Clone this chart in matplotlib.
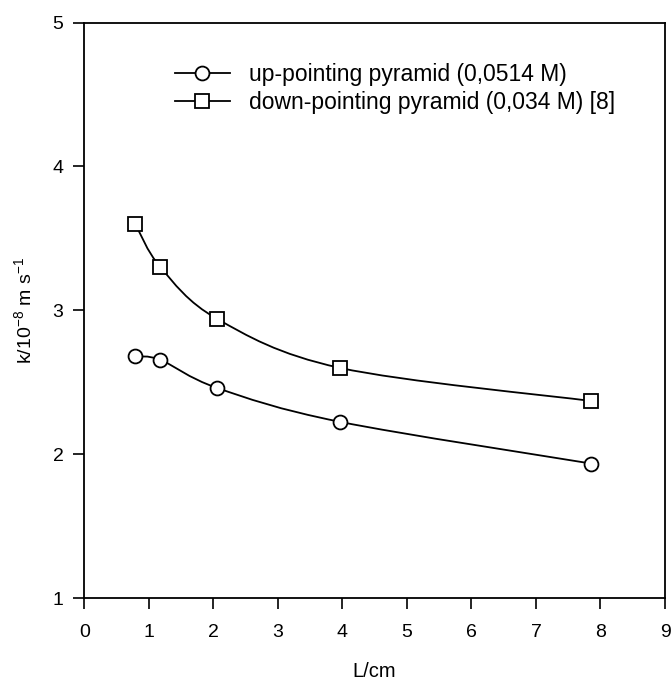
import numpy as np
import matplotlib.pyplot as plt
from matplotlib.path import Path
from matplotlib.patches import PathPatch
from matplotlib.lines import Line2D

plt.rcParams['font.family'] = ['Liberation Sans', 'DejaVu Sans']

# data
L_up = [0.79, 1.18, 2.06, 3.96, 7.85]
k_up = [2.68, 2.655, 2.46, 2.225, 1.935]
L_down = [0.79, 1.18, 2.06, 3.96, 7.85]
k_down = [3.60, 3.30, 2.94, 2.60, 2.37]

label_up = 'up-pointing pyramid (0,0514 M)'
label_down = 'down-pointing pyramid (0,034 M) [8]'


def smooth_path(x, y, t=0.5):
    # Catmull-Rom style bezier connector through the data points
    x = np.asarray(x, float)
    y = np.asarray(y, float)
    verts = [(x[0], y[0])]
    codes = [Path.MOVETO]
    n = len(x)
    for i in range(n - 1):
        p0 = (x[max(i - 1, 0)], y[max(i - 1, 0)])
        p1 = (x[i], y[i])
        p2 = (x[i + 1], y[i + 1])
        p3 = (x[min(i + 2, n - 1)], y[min(i + 2, n - 1)])
        c1 = (p1[0] + (p2[0] - p0[0]) * t / 3, p1[1] + (p2[1] - p0[1]) * t / 3)
        c2 = (p2[0] - (p3[0] - p1[0]) * t / 3, p2[1] - (p3[1] - p1[1]) * t / 3)
        verts += [c1, c2, p2]
        codes += [Path.CURVE4] * 3
    return Path(verts, codes)


fig = plt.figure(figsize=(6.72, 6.85), dpi=100)
ax = fig.add_axes([0.1254, 0.127, 0.8642, 0.84])

for xs, ys in [(L_up, k_up), (L_down, k_down)]:
    ax.add_patch(PathPatch(smooth_path(xs, ys), fill=False, ec='black', lw=1.3, zorder=2))

ax.plot(L_up, k_up, ls='none', marker='o', ms=10, mfc='white', mec='black', mew=1.3, zorder=3)
ax.plot(L_down, k_down, ls='none', marker='s', ms=9.5, mfc='white', mec='black', mew=1.3, zorder=3)

ax.set_xlim(0, 9)
ax.set_ylim(1, 5)
ax.set_xticks(range(0, 10))
ax.set_yticks(range(1, 6))
ax.tick_params(direction='out', length=8, width=1.2, labelsize=14)
ax.tick_params(axis='x', pad=11)
ax.tick_params(axis='y', pad=7)
for s in ax.spines.values():
    s.set_linewidth(1.3)

ax.set_xlabel('L/cm', fontsize=14.5, labelpad=15)
ax.set_ylabel(r'k/10$^{\mathregular{-8}}$ m s$^{\mathregular{-1}}$', fontsize=14, labelpad=12)

handles = [
    Line2D([], [], color='black', lw=1.3, marker='o', ms=10, mfc='white', mec='black', mew=1.3),
    Line2D([], [], color='black', lw=1.3, marker='s', ms=9.5, mfc='white', mec='black', mew=1.3),
]
ax.legend(handles, [label_up, label_down], loc='upper left', bbox_to_anchor=(0.156, 0.93),
          frameon=False, fontsize=16.5, handlelength=2.4, handletextpad=0.82,
          labelspacing=0.22, borderpad=0, borderaxespad=0)

fig.savefig('out.png', dpi=100)
